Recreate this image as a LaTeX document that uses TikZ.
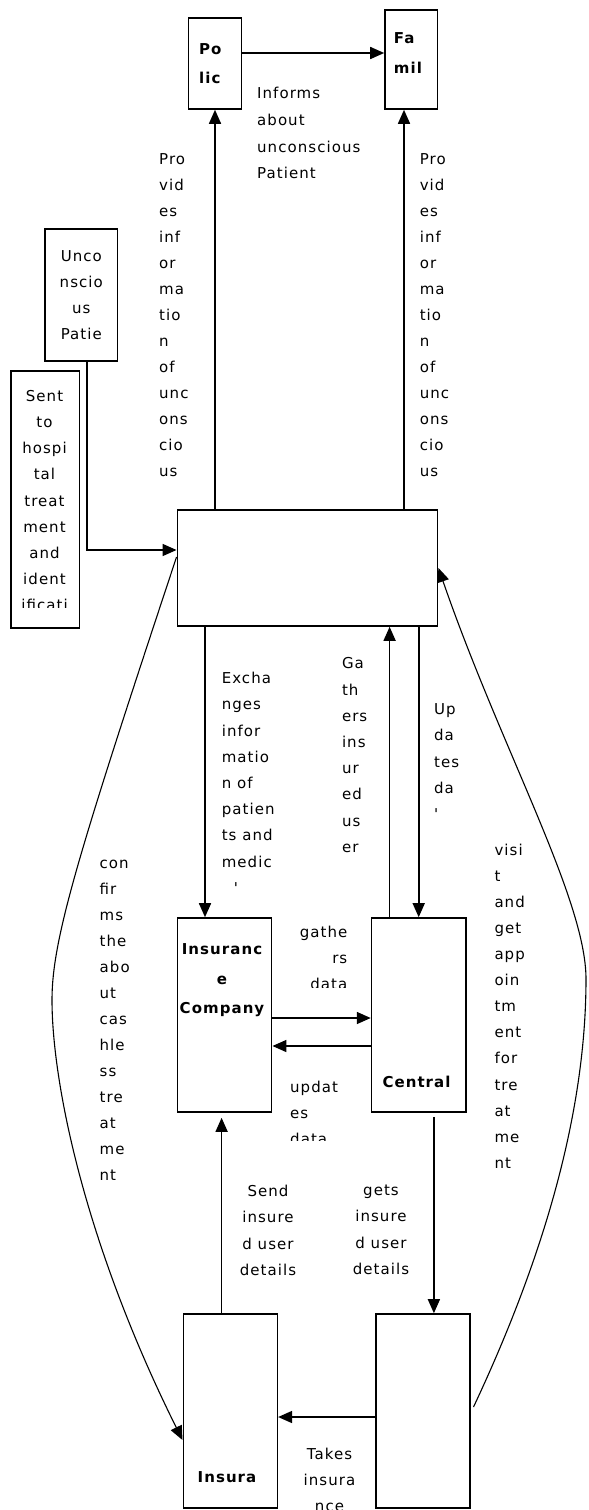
\documentclass[tikz,border=0pt]{standalone}
\usepackage{fontspec}
\newfontfamily\lblfont[LetterSpace=7]{DejaVu Sans}
\usetikzlibrary{arrows.meta, positioning, calc}

% first line baseline sits 12pt under the node's top
\newcommand{\topline}{\rule{0pt}{12pt}}

\tikzset{
  box/.style={draw, line width=1.6pt, inner sep=0pt},
  lbl/.style={font=\lblfont\fontsize{15}{26.2}\selectfont, align=left, anchor=north west,
    yshift=12pt, inner sep=0pt, execute at begin node=\topline},
  lblc/.style={lbl, align=center, anchor=north},
  hdr/.style={lbl, font=\lblfont\bfseries\fontsize{15}{29.5}\selectfont, align=center, anchor=north},
  arr/.style={-{Triangle[length=14pt,width=12pt]}, line width=1.6pt},
  curve/.style={-{Triangle[length=14pt,width=12pt]}, line width=1.1pt},
}

\begin{document}
\begin{tikzpicture}[x=1pt, y=-1pt]
  \path[use as bounding box, fill=white] (0,0) rectangle (589,1510);

  % boxes
  \node[box, minimum width=53pt, minimum height=91pt] (police) at (215,63.5) {};
  \node[box, minimum width=52.6pt, minimum height=99pt] (family) at (411.3,59.5) {};
  \node[box, minimum width=72.6pt, minimum height=132pt] (uncon) at (81.3,295) {};
  \node[box, minimum width=68.6pt, minimum height=257pt] (sent) at (45.3,499.5) {};
  \node[box, minimum width=260.3pt, minimum height=116pt] (main) at (307.5,568) {};
  \node[box, minimum width=94.3pt, minimum height=194pt] (insco) at (224.5,1015) {};
  \node[box, minimum width=94.3pt, minimum height=194pt] (central) at (418.7,1015) {};
  \node[box, minimum width=94pt, minimum height=194pt] (insb) at (230.3,1411) {};
  \node[box, minimum width=94pt, minimum height=194pt] (ctrb) at (422.7,1411) {};

  % texts in boxes
  \node[hdr, align=left, anchor=north west, font=\lblfont\bfseries\fontsize{15}{29}\selectfont] at (199,55.5) {Po\\lic};
  \node[hdr, align=left, anchor=north west, font=\lblfont\bfseries\fontsize{15}{30}\selectfont] at (393.7,44.5) {Fa\\mil};
  \node[lblc] at (81.3,262) {Unco\\nscio\\us\\Patie};
  \begin{scope}
    \clip (12,372) rectangle (79,607);
    \node[lblc] at (44.5,402) {Sent\\to\\hospi\\tal\\treat\\ment\\and\\ident\\ificati};
  \end{scope}
  \node[hdr] at (222,955.5) {Insuranc\\e\\Company};
  \node[hdr] at (416.5,1087.5) {Central};
  \node[hdr] at (227,1482.5) {Insura};

  % connector labels
  \node[lbl, font=\lblfont\fontsize{15}{26.7}\selectfont] at (257,99.3) {Informs\\about\\unconscious\\Patient};
  \node[lbl, font=\lblfont\fontsize{15}{26}\selectfont] at (159,165.5) {Pro\\vid\\es\\inf\\or\\ma\\tio\\n\\of\\unc\\ons\\cio\\us};
  \node[lbl, font=\lblfont\fontsize{15}{26}\selectfont] at (419.6,165.5) {Pro\\vid\\es\\inf\\or\\ma\\tio\\n\\of\\unc\\ons\\cio\\us};
  \node[lbl] at (221.6,684) {Excha\\nges\\infor\\matio\\n of\\patien\\ts and\\medic\\\hspace*{12pt}\textquotesingle};
  \node[lbl] at (341.8,669.5) {Ga\\th\\ers\\ins\\ur\\ed\\us\\er};
  \node[lbl] at (433.9,715.5) {Up\\da\\tes\\da\\\textquotesingle};
  \node[lbl, font=\lblfont\fontsize{15}{26}\selectfont] at (99.5,871.5) {con\\fir\\ms\\the\\abo\\ut\\cas\\hle\\ss\\tre\\at\\me\\nt};
  \node[lbl, font=\lblfont\fontsize{15}{26.1}\selectfont] at (494.3,855.5) {visi\\t\\and\\get\\app\\oin\\tm\\ent\\for\\tre\\at\\me\\nt};
  \begin{scope}
    \clip (280,915) rectangle (360,987);
    \node[lbl, font=\lblfont\fontsize{15}{26}\selectfont, align=right, anchor=north east] at (347.5,938) {gathe\\rs\\data};
  \end{scope}
  \begin{scope}
    \clip (280,1070) rectangle (360,1140);
    \node[lbl, font=\lblfont\fontsize{15}{26}\selectfont] at (290,1093) {updat\\es\\data};
  \end{scope}
  \node[lblc, font=\lblfont\fontsize{15}{26.5}\selectfont] at (268,1196.5) {Send\\insure\\d user\\details};
  \node[lblc, font=\lblfont\fontsize{15}{26.5}\selectfont] at (381,1196.5) {gets\\insure\\d user\\details};
  \node[lblc, font=\lblfont\fontsize{15}{26}\selectfont] at (329.5,1460) {Takes\\insura\\nce};

  % straight connectors
  \coordinate (famfoot) at ([xshift=-7.3pt]family.south);
  \coordinate (exfoot) at ([xshift=-19.5pt]insco.north);
  \coordinate (gafoot) at ([xshift=-29.1pt]central.north);
  \coordinate (sdfoot) at ([xshift=-8.7pt]insb.north);
  \coordinate (gtfoot) at ([xshift=11.2pt]ctrb.north);

  \draw[arr] ([yshift=10.5pt]police.east) -- ([yshift=10.5pt]police.east -| family.west);
  \draw[arr] (main.north -| police.south) -- (police.south);
  \draw[arr] (famfoot |- main.north) -- (famfoot);
  \draw[arr] ([xshift=5.7pt]uncon.south) |- ([yshift=18pt]main.west);
  \draw[arr] (exfoot |- main.south) -- (exfoot);
  \draw[arr] (gafoot) -- (gafoot |- main.south);
  \draw[arr] (central.north |- main.south) -- (central.north);
  \draw[arr] ([yshift=-3pt]insco.east) -- ([yshift=-3pt]insco.east -| central.west);
  \draw[arr] ([yshift=-31pt]central.west) -- ([yshift=-31pt]central.west -| insco.east);
  \draw[arr, shorten >=5pt] (sdfoot) -- (sdfoot |- insco.south);
  \draw[arr, shorten <=4pt] (gtfoot |- central.south) -- (gtfoot);
  \draw[arr] ([yshift=-6pt]ctrb.west) -- ([yshift=-6pt]ctrb.west -| insb.east);

  % curved connectors
  \draw[curve] ([yshift=11pt]main.west) .. controls (77,857) and (52,940) .. (52,1000)
    .. controls (52,1080) and (83,1240) .. ([yshift=-29pt]insb.west);
  \draw[curve] ([xshift=3pt,yshift=4pt]ctrb.east) .. controls (552,1240) and (586,1099) .. (586,979)
    .. controls (586,899) and (501,749) .. (main.east);
\end{tikzpicture}
\end{document}
